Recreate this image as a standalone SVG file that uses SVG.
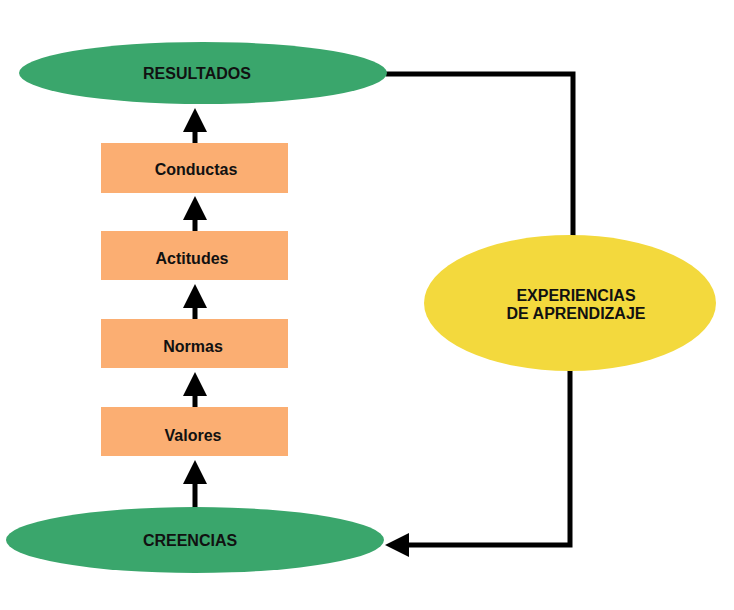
<svg xmlns="http://www.w3.org/2000/svg" width="734" height="610" viewBox="0 0 734 610">
<style>
.g{fill:#3aa66c}.r{fill:#fbae72}
text{font-family:"Liberation Sans",Arial,sans-serif;font-weight:bold;font-size:16px;fill:#111;text-anchor:middle}
.c line,.c path{stroke:#000;stroke-width:5;fill:none}
</style>
<defs>
<marker id="a" markerUnits="userSpaceOnUse" markerWidth="24" markerHeight="24" viewBox="0 0 24 24" refX="2" refY="12" orient="auto"><path d="M0,0 L24,12 L0,24 Z" fill="#000"/></marker>
</defs>
<rect width="734" height="610" fill="#fff"/>
<g class="c">
<line x1="195" y1="143" x2="195" y2="130" marker-end="url(#a)"/>
<line x1="195" y1="232" x2="195" y2="218" marker-end="url(#a)"/>
<line x1="195" y1="320" x2="195" y2="306" marker-end="url(#a)"/>
<line x1="195" y1="408" x2="195" y2="394" marker-end="url(#a)"/>
<line x1="195" y1="508" x2="195" y2="482" marker-end="url(#a)"/>
<path d="M386,74 H573 V236"/>
<path d="M570,370 V545 H407" marker-end="url(#a)"/>
</g>
<g id="resultados"><ellipse class="g" cx="203" cy="73" rx="184" ry="31"/><text x="197" y="79">RESULTADOS</text></g>
<g id="conductas"><rect class="r" x="101" y="143" width="187" height="50"/><text x="196" y="175">Conductas</text></g>
<g id="actitudes"><rect class="r" x="101" y="231" width="187" height="49"/><text x="192" y="264">Actitudes</text></g>
<g id="normas"><rect class="r" x="101" y="319" width="187" height="49"/><text x="193" y="352">Normas</text></g>
<g id="valores"><rect class="r" x="101" y="407" width="187" height="49"/><text x="193" y="441">Valores</text></g>
<g id="creencias"><ellipse class="g" cx="195" cy="540" rx="189" ry="33"/><text x="190" y="546">CREENCIAS</text></g>
<g id="experiencias"><ellipse cx="570" cy="303" rx="146" ry="68" fill="#f3d93d"/><text x="576" y="301">EXPERIENCIAS</text><text x="576" y="319">DE APRENDIZAJE</text></g>
</svg>
